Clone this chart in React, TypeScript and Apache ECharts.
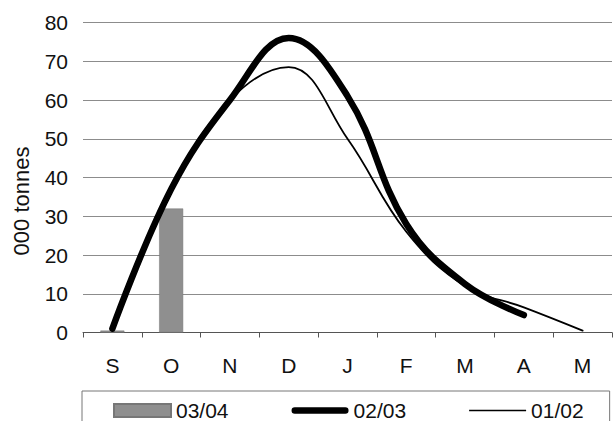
import React, { useEffect, useRef } from "react";
import * as echarts from "echarts";

const months = ["S", "O", "N", "D", "J", "F", "M", "A", "M"];
const yTicks = [0, 10, 20, 30, 40, 50, 60, 70, 80];
const season0304 = [0.5, 32, null, null, null, null, null, null, null];
const season0203 = [1, 37, 60, 76, 61, 28, 12.5, 4.5, null];
const season0102 = [1, 37, 60, 68.5, 50, 26, 12, 6.5, 0.5];
const seriesNames = ["03/04", "02/03", "01/02"];
const yAxisTitle = "000 tonnes";

const FONT = "'Liberation Sans', Arial, Helvetica, sans-serif";

export default function App() {
  const ref = useRef<HTMLDivElement>(null);
  useEffect(() => {
    document.body.style.margin = "0";
    const chart = echarts.init(ref.current!, null, { renderer: "svg" });
    chart.setOption({
      animation: false,
      backgroundColor: "#ffffff",
      textStyle: { fontFamily: FONT },
      grid: { left: 83, right: 1, top: 22.5, bottom: 88.5 },
      graphic: [
        {
          type: "text",
          x: 21,
          y: 201,
          rotation: Math.PI / 2,
          style: {
            text: yAxisTitle,
            fontSize: 22,
            fontFamily: FONT,
            fill: "#111",
            align: "center",
            verticalAlign: "middle",
          },
        },
      ],
      legend: {
        data: [
          { name: seriesNames[0], icon: "rect" },
          { name: seriesNames[1], icon: "path://M3,0 L54,0 A3.25,3.25 0 0 1 54,6.5 L3,6.5 A3.25,3.25 0 0 1 3,0 Z" },
          { name: seriesNames[2], icon: "path://M0,0 L57,0 L57,1.6 L0,1.6 Z" },
        ],
        symbolKeepAspect: true,
        left: 82,
        top: 391,
        padding: [9, 26, 30, 31],
        itemWidth: 57,
        itemHeight: 13,
        itemGap: 63,
        borderColor: "#777",
        borderWidth: 1,
        borderRadius: 0,
        textStyle: { fontSize: 21, color: "#111", fontFamily: FONT },
      },
      xAxis: {
        type: "category",
        data: months,
        boundaryGap: true,
        axisLine: { show: true, lineStyle: { color: "#555", width: 1 } },
        axisTick: { show: true, length: 5, lineStyle: { color: "#555" } },
        axisLabel: { fontSize: 21, color: "#111", margin: 22, fontFamily: FONT },
        splitLine: { show: false },
      },
      yAxis: {
        type: "value",
        min: yTicks[0],
        max: yTicks[yTicks.length - 1],
        interval: 10,
        axisLine: { show: false },
        axisTick: { show: false },
        axisLabel: { fontSize: 21, color: "#111", margin: 15, fontFamily: FONT },
        splitLine: { show: true, lineStyle: { color: "#8c8c8c", width: 1 } },
      },
      series: [
        {
          name: "03/04",
          type: "bar",
          data: season0304,
          barWidth: 24,
          itemStyle: { color: "#8f8f8f", borderColor: "#777", borderWidth: 0.5 },
          z: 1,
        },
        {
          name: "01/02",
          type: "line",
          data: season0102,
          smooth: 0.4,
          symbol: "none",
          lineStyle: { color: "#000", width: 1.8, cap: "round", join: "round" },
          itemStyle: { color: "#000" },
          z: 2,
        },
        {
          name: "02/03",
          type: "line",
          data: season0203,
          smooth: 0.4,
          symbol: "none",
          lineStyle: { color: "#000", width: 6.5, cap: "round", join: "round" },
          itemStyle: { color: "#000" },
          z: 3,
        },
      ],
    });
    return () => chart.dispose();
  }, []);
  return <div ref={ref} style={{ width: 613, height: 421 }} />;
}
